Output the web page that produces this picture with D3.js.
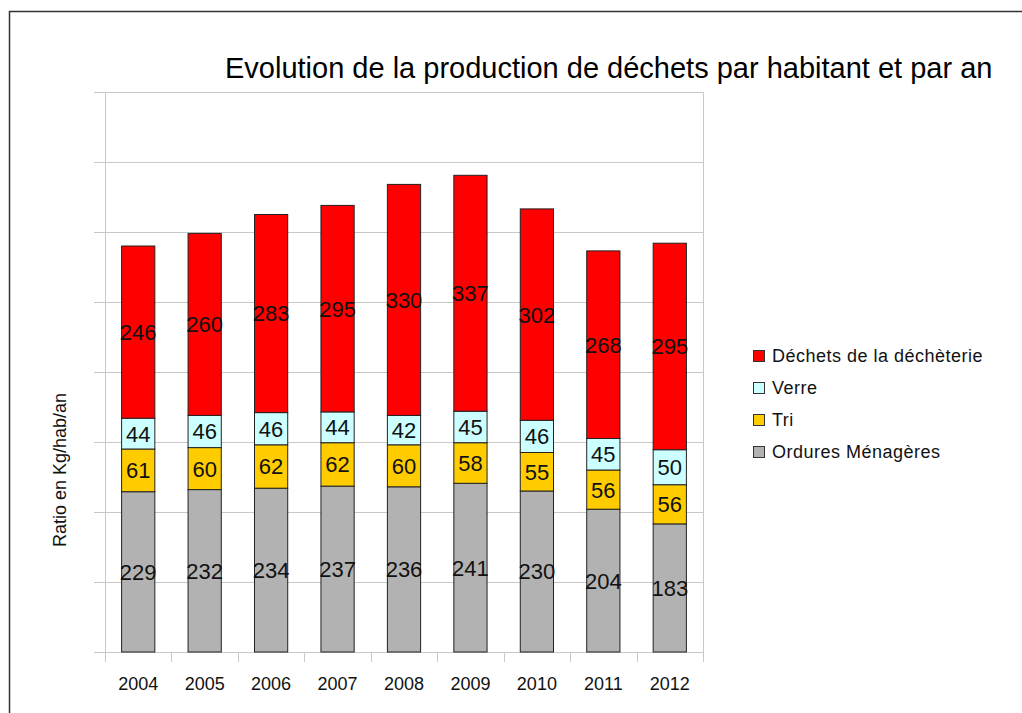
<!DOCTYPE html>
<html>
<head>
<meta charset="utf-8">
<script src="https://cdn.jsdelivr.net/npm/d3@7"></script>
<style>
  body { margin: 0; background: #fff; }
  text { font-family: "Liberation Sans", Arial, sans-serif; }
</style>
</head>
<body>
<script>
// data
const years = ["2004", "2005", "2006", "2007", "2008", "2009", "2010", "2011", "2012"];
const ordures = [229, 232, 234, 237, 236, 241, 230, 204, 183];
const tri = [61, 60, 62, 62, 60, 58, 55, 56, 56];
const verre = [44, 46, 46, 44, 42, 45, 46, 45, 50];
const decheterie = [246, 260, 283, 295, 330, 337, 302, 268, 295];
const seriesNames = ["Ordures Ménagères", "Tri", "Verre", "Déchets de la déchèterie"];
const colors = ["#b2b2b2", "#ffcc00", "#ccffff", "#ff0000"];
const yTicks = [0, 100, 200, 300, 400, 500, 600, 700, 800];

const W = 1022, H = 713;
const plot = {left: 105, right: 703, top: 92, bottom: 652};

const svg = d3.select("body").append("svg")
    .attr("width", W)
    .attr("height", H);

// frame around the page
svg.append("rect")
    .attr("x", 9.5).attr("y", 11.5)
    .attr("width", W + 20).attr("height", H + 20)
    .attr("fill", "none")
    .attr("stroke", "#333")
    .attr("stroke-width", 1.5);

const x = d3.scaleBand()
    .domain(years)
    .range([plot.left, plot.right])
    .paddingInner(0.5)
    .paddingOuter(0.25);

const y = d3.scaleLinear()
    .domain([0, 800])
    .range([plot.bottom, plot.top]);

// grid lines
svg.append("g").selectAll("line")
    .data(yTicks)
    .enter().append("line")
    .attr("x1", plot.left - 11)
    .attr("x2", plot.right)
    .attr("y1", d => Math.round(y(d)) + 0.5)
    .attr("y2", d => Math.round(y(d)) + 0.5)
    .attr("stroke", "#c8c8c8")
    .attr("stroke-width", 1);

// left and right verticals
[plot.left, plot.right].forEach(function (px) {
    svg.append("line")
        .attr("x1", px + 0.5).attr("x2", px + 0.5)
        .attr("y1", plot.top).attr("y2", plot.bottom + 10)
        .attr("stroke", "#c8c8c8");
});

// category ticks
years.forEach(function (yr, i) {
    if (i === 0) return;
    const px = Math.round(plot.left + i * (plot.right - plot.left) / years.length) + 0.5;
    svg.append("line")
        .attr("x1", px).attr("x2", px)
        .attr("y1", plot.bottom).attr("y2", plot.bottom + 10)
        .attr("stroke", "#c8c8c8");
});

// stack
const table = years.map((yr, i) => ({
    year: yr, s0: ordures[i], s1: tri[i], s2: verre[i], s3: decheterie[i]
}));
const stack = d3.stack().keys(["s0", "s1", "s2", "s3"]);
const layers = stack(table);

const layerG = svg.append("g").selectAll("g")
    .data(layers)
    .enter().append("g")
    .attr("fill", (d, i) => colors[i]);

layerG.selectAll("rect")
    .data(d => d)
    .enter().append("rect")
    .attr("x", d => x(d.data.year))
    .attr("width", x.bandwidth())
    .attr("y", d => y(d[1]))
    .attr("height", d => y(d[0]) - y(d[1]))
    .attr("stroke", "#222")
    .attr("stroke-width", 1);

// value labels
layerG.selectAll("text")
    .data(d => d)
    .enter().append("text")
    .attr("x", d => x(d.data.year) + x.bandwidth() / 2)
    .attr("y", d => (y(d[0]) + y(d[1])) / 2)
    .attr("dy", "0.36em")
    .attr("text-anchor", "middle")
    .style("font-size", "22px")
    .attr("fill", "#111")
    .text(d => d[1] - d[0]);

// year labels
svg.append("g").selectAll("text")
    .data(years)
    .enter().append("text")
    .attr("x", d => x(d) + x.bandwidth() / 2)
    .attr("y", 690)
    .attr("text-anchor", "middle")
    .style("font-size", "18px")
    .attr("fill", "#111")
    .text(d => d);

// title
svg.append("text")
    .attr("x", 225)
    .attr("y", 78)
    .style("font-size", "29px")
    .attr("fill", "#000")
    .text("Evolution de la production de déchets par habitant et par an");

// y axis label
svg.append("text")
    .attr("transform", "translate(66,470) rotate(-90)")
    .attr("text-anchor", "middle")
    .style("font-size", "18px")
    .attr("fill", "#111")
    .text("Ratio en Kg/hab/an");

// legend
const legendOrder = [3, 2, 1, 0];
const legend = svg.append("g").selectAll("g")
    .data(legendOrder)
    .enter().append("g")
    .attr("transform", (d, i) => "translate(753," + (356 + i * 32) + ")");

legend.append("rect")
    .attr("x", 0.5).attr("y", -5.5)
    .attr("width", 11).attr("height", 11)
    .attr("fill", d => colors[d])
    .attr("stroke", "#333");

legend.append("text")
    .attr("x", 19)
    .attr("y", 0)
    .attr("dy", "0.35em")
    .style("font-size", "18px")
    .style("letter-spacing", "0.5px")
    .attr("fill", "#111")
    .text(d => seriesNames[d]);
</script>
</body>
</html>
